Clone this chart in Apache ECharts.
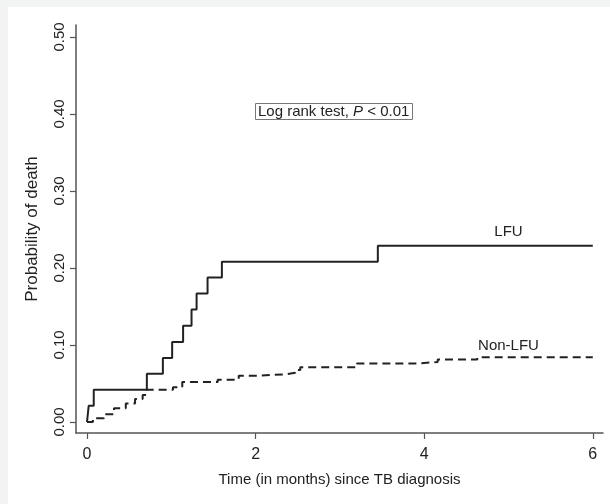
<!DOCTYPE html>
<html>
<head>
<meta charset="utf-8">
<script src="https://cdn.jsdelivr.net/npm/echarts@6/dist/echarts.min.js"></script>
<style>
  html, body { margin: 0; padding: 0; background: #f2f4f4; width: 610px; height: 504px; overflow: hidden; }
  #chart { position: absolute; left: 8px; top: 7px; width: 602px; height: 497px; background: #ffffff; }
</style>
</head>
<body>
<div id="chart"></div>
<script>
// ---- data ----
const lfuTime = [0, 0.02, 0.08, 0.71, 0.90, 1.01, 1.14, 1.24, 1.30, 1.43, 1.60, 3.45, 6.0];
const lfuProb = [0, 0.021, 0.042, 0.0625, 0.083, 0.104, 0.125, 0.146, 0.167, 0.1875, 0.208, 0.229, 0.229];

const nonLfuTime = [0, 0.07, 0.20, 0.32, 0.46, 0.57, 0.66, 0.71, 1.02, 1.13, 1.55, 1.80, 2.00, 2.37, 2.47, 2.53, 3.20, 3.92, 4.16, 4.63, 6.0];
const nonLfuProb = [0, 0.005, 0.010, 0.018, 0.024, 0.030, 0.035, 0.042, 0.045, 0.052, 0.055, 0.060, 0.062, 0.064, 0.0675, 0.071, 0.076, 0.078, 0.081, 0.084, 0.084];

const xTicks = [0, 2, 4, 6];
const yTicks = [0, 0.1, 0.2, 0.3, 0.4, 0.5];

const seriesNames = ['LFU', 'Non-LFU'];
const labelTime = 5.0;
const annotation = 'Log rank test, ';
const annotationP = 'P';
const annotationRest = ' < 0.01';
const xTitle = 'Time (in months) since TB diagnosis';
const yTitle = 'Probability of death';

const FONT = '"Liberation Sans", Arial, sans-serif';
const INK = '#222222';
const AXIS = '#555555';

function pairs(t, v) { return t.map((x, i) => [x, v[i]]); }

const chart = echarts.init(document.getElementById('chart'), null, { renderer: 'canvas' });

chart.setOption({
  animation: false,
  backgroundColor: '#ffffff',
  textStyle: { fontFamily: FONT },
  title: {
    left: 247, top: 96,
    text: '{a|' + annotation + '}{i|' + annotationP + '}{a|' + annotationRest + '}',
    borderColor: '#777777', borderWidth: 1, padding: [1, 3, 1, 3],
    textStyle: {
      fontWeight: 'normal',
      rich: {
        a: { fontFamily: FONT, fontSize: 15, color: INK, fontWeight: 'normal' },
        i: { fontFamily: FONT, fontSize: 15, color: INK, fontStyle: 'italic', fontWeight: 'normal' }
      }
    }
  },
  grid: { left: 68, right: 7, top: 18, bottom: 71, containLabel: false },
  xAxis: {
    type: 'value',
    min: -0.1305, max: 6.121,
    name: xTitle, nameLocation: 'middle', nameGap: 39,
    nameTextStyle: { fontFamily: FONT, fontSize: 15, color: INK },
    axisLine: { show: true, onZero: false, lineStyle: { color: AXIS, width: 1.5 } },
    axisTick: { show: true, length: 6, customValues: xTicks, lineStyle: { color: AXIS, width: 1.2 } },
    axisLabel: { customValues: xTicks, margin: 14, fontFamily: FONT, fontSize: 16, color: INK },
    splitLine: { show: false }
  },
  yAxis: {
    type: 'value',
    min: -0.0143, max: 0.5156,
    name: yTitle, nameLocation: 'middle', nameGap: 35,
    nameTextStyle: { fontFamily: FONT, fontSize: 17, color: INK },
    axisLine: { show: true, onZero: false, lineStyle: { color: AXIS, width: 1.5 } },
    axisTick: { show: true, length: 6, customValues: yTicks, lineStyle: { color: AXIS, width: 1.2 } },
    axisLabel: {
      customValues: yTicks, rotate: 90, margin: 9,
      fontFamily: FONT, fontSize: 15, color: INK,
      formatter: v => v.toFixed(2)
    },
    splitLine: { show: false }
  },
  series: [
    {
      name: seriesNames[0], type: 'line', step: 'end', showSymbol: false,
      data: pairs(lfuTime, lfuProb),
      lineStyle: { color: INK, width: 2, type: 'solid' },
      markPoint: {
        symbol: 'circle', symbolSize: 0,
        label: { show: true, position: 'top', distance: 6, formatter: seriesNames[0], fontFamily: FONT, fontSize: 15, color: INK },
        data: [{ coord: [labelTime, lfuProb[lfuProb.length - 1]] }]
      }
    },
    {
      name: seriesNames[1], type: 'line', step: 'end', showSymbol: false,
      data: pairs(nonLfuTime, nonLfuProb),
      lineStyle: { color: INK, width: 2, type: [8, 5] },
      markPoint: {
        symbol: 'circle', symbolSize: 0,
        label: { show: true, position: 'top', distance: 4, formatter: seriesNames[1], fontFamily: FONT, fontSize: 15, color: INK },
        data: [{ coord: [labelTime, nonLfuProb[nonLfuProb.length - 1]] }]
      }
    }
  ]
});
</script>
</body>
</html>
